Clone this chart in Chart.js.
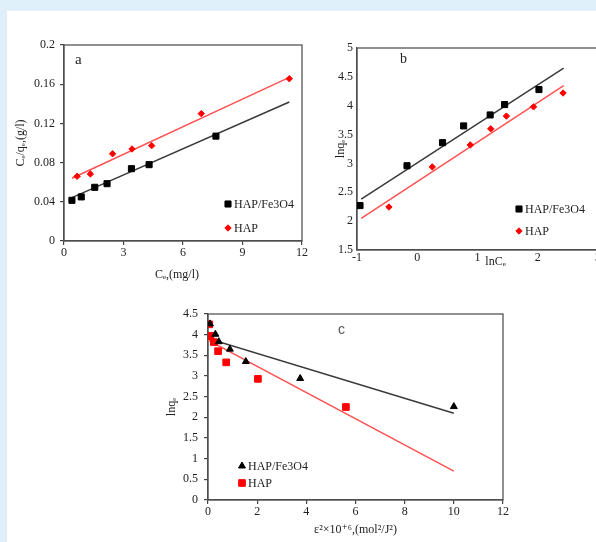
<!DOCTYPE html>
<html>
<head>
<meta charset="utf-8">
<script src="https://cdn.jsdelivr.net/npm/chart.js@4.4.1/dist/chart.umd.min.js"></script>
<style>
  html, body { margin: 0; padding: 0; width: 596px; height: 542px; overflow: hidden; background: #dff0fa; }
  #panel { position: absolute; left: 7px; top: 11px; right: 0; bottom: 0; background: #fff; }
  canvas { position: absolute; }
</style>
</head>
<body>
<div id="panel"></div>
<canvas id="chartA" width="310" height="290" style="left:0;top:0"></canvas>
<canvas id="chartB" width="320" height="290" style="left:305px;top:0"></canvas>
<canvas id="chartC" width="380" height="252" style="left:150px;top:290px"></canvas>
<script>
// (a) Langmuir: Ce/qe vs Ce
var aFeX  = [0.40, 0.87, 1.55, 2.17, 3.40, 4.29, 7.66];
var aFeY  = [0.0415, 0.045, 0.0548, 0.0585, 0.0738, 0.0779, 0.107];
var aHapX = [0.66, 1.33, 2.45, 3.43, 4.42, 6.92, 11.36];
var aHapY = [0.066, 0.0684, 0.089, 0.0939, 0.0973, 0.130, 0.1656];
var aFitX = [0.4, 11.36];
var aFitFe  = [0.0442, 0.1418];
var aFitHap = [0.064, 0.167];
var aXTicks = [0, 3, 6, 9, 12];
var aYTicks = [0, 0.04, 0.08, 0.12, 0.16, 0.2];

// (b) Freundlich: lnqe vs lnCe
var bFeX  = [-0.95, -0.17, 0.42, 0.77, 1.21, 1.45, 2.02];
var bFeY  = [2.27, 2.96, 3.36, 3.65, 3.84, 4.02, 4.28];
var bHapX = [-0.47, 0.25, 0.88, 1.22, 1.48, 1.93, 2.42];
var bHapY = [2.245, 2.94, 3.32, 3.60, 3.82, 3.98, 4.22];
var bFitX = [-0.93, 2.43];
var bFitFe  = [2.38, 4.65];
var bFitHap = [2.05, 4.35];
var bXTicks = [-1, 0, 1, 2, 3];
var bYTicks = [1.5, 2, 2.5, 3, 3.5, 4, 4.5, 5];

// (c) D-R: lnqe vs eps^2
var cFeX  = [0.08, 0.30, 0.44, 0.89, 1.54, 3.75, 10.0];
var cFeY  = [4.26, 4.01, 3.83, 3.65, 3.35, 2.94, 2.26];
var cHapX = [0.05, 0.10, 0.24, 0.41, 0.74, 2.03, 5.61];
var cHapY = [4.25, 3.97, 3.82, 3.60, 3.33, 2.93, 2.25];
var cFitX = [0, 10];
var cFitFe  = [3.91, 2.10];
var cFitHap = [3.87, 0.70];
var cXTicks = [0, 2, 4, 6, 8, 10, 12];
var cYTicks = [0, 0.5, 1, 1.5, 2, 2.5, 3, 3.5, 4, 4.5];

var serif = '"Liberation Serif", "DejaVu Serif", serif';
var textColor = '#222';

function pts(xs, ys) {
    return xs.map(function(x, i) { return {x: x, y: ys[i]}; });
}

// frame round the plot, panel letter and a small legend inside the plot
var extras = {
    id: 'extras',
    beforeDatasetsDraw: function(chart) {
        var ca = chart.chartArea, ctx = chart.ctx;
        ctx.save();
        ctx.strokeStyle = '#555';
        ctx.lineWidth = 1.3;
        ctx.strokeRect(ca.left, ca.top, ca.right - ca.left, ca.bottom - ca.top);
        ctx.restore();
    },
    afterDraw: function(chart, args, opts) {
        var ca = chart.chartArea, ctx = chart.ctx;
        ctx.save();
        ctx.textBaseline = 'middle';
        ctx.textAlign = 'left';
        ctx.font = opts.letterFont;
        ctx.fillStyle = opts.letterColor;
        ctx.fillText(opts.letter, ca.left + opts.letterAt[0], ca.top + opts.letterAt[1]);

        ctx.font = '12px ' + serif;
        var x = ca.left + opts.legendAt[0];
        var y = ca.top + opts.legendAt[1];
        chart.data.datasets.forEach(function(ds) {
            if (ds.showLine) return;
            ctx.fillStyle = ds.backgroundColor;
            ctx.strokeStyle = ds.borderColor;
            ctx.lineWidth = 1;
            Chart.helpers.drawPoint(ctx, {pointStyle: ds.pointStyle, radius: ds.pointRadius, rotation: 0, borderWidth: 1}, x, y);
            ctx.fillStyle = textColor;
            ctx.fillText(ds.label, x + 6, y + 1);
            y += opts.legendGap;
        });
        ctx.restore();
    }
};

function axis(min, max, ticks, title, o) {
    return {
        type: 'linear',
        min: min,
        max: max,
        afterBuildTicks: function(s) { s.ticks = ticks.map(function(v) { return {value: v}; }); },
        afterFit: function(s) { if (s.isHorizontal()) s.height = o.size; else s.width = o.size; },
        grid: {drawOnChartArea: false, drawTicks: o.tick > 0, tickLength: o.tick, color: '#444', lineWidth: 1.2},
        border: {color: '#444', width: 1.3},
        ticks: {font: {family: serif, size: 12}, color: textColor, padding: o.pad, maxRotation: 0,
                callback: function(v) { return String(v); }},
        title: {display: true, text: title, color: textColor, font: {family: serif, size: 12}, padding: o.titlePad}
    };
}

function series(label, xs, ys, style, color, r) {
    return {label: label, data: pts(xs, ys), pointStyle: style, pointRadius: r, pointHoverRadius: r,
            backgroundColor: color, borderColor: color, borderWidth: 1, order: 1};
}

function fit(xs, ys, color) {
    return {label: 'fit', data: pts(xs, ys), showLine: true, pointRadius: 0, borderColor: color,
            borderWidth: 1.5, backgroundColor: color, order: 2};
}

function makeChart(id, datasets, scales, padding, extraOpts) {
    return new Chart(document.getElementById(id).getContext('2d'), {
        type: 'scatter',
        data: {datasets: datasets},
        options: {
            responsive: false,
            animation: false,
            layout: {padding: padding},
            plugins: {legend: {display: false}, tooltip: {enabled: false}, extras: extraOpts},
            scales: scales
        },
        plugins: [extras]
    });
}

makeChart('chartA', [
    series('HAP/Fe3O4', aFeX, aFeY, 'rect', '#000', 4.3),
    series('HAP', aHapX, aHapY, 'rectRot', '#ff0000', 3.2),
    fit(aFitX, aFitFe, '#3a3a3a'),
    fit(aFitX, aFitHap, '#ff5252')
], {
    x: axis(0, 12, aXTicks, 'C\u2091,(mg/l)\u2003', {size: 49, tick: 4, pad: 1, titlePad: {top: 0, bottom: 8}}),
    y: axis(0, 0.2, aYTicks, 'C\u2091/q\u2091,(g/l)', {size: 64, tick: 4, pad: 5, titlePad: {top: 14, bottom: 0}})
}, {left: 0, top: 45, right: 8, bottom: 0},
{letter: 'a', letterFont: '15px ' + serif, letterColor: '#222', letterAt: [11, 15], legendAt: [164, 159], legendGap: 24});

makeChart('chartB', [
    series('HAP/Fe3O4', bFeX, bFeY, 'rect', '#000', 4.3),
    series('HAP', bHapX, bHapY, 'rectRot', '#ff0000', 3.2),
    fit(bFitX, bFitFe, '#3a3a3a'),
    fit(bFitX, bFitHap, '#ff5252')
], {
    x: axis(-1, 3, bXTicks, '\u2003\u2003\u2003lnC\u2091', {size: 40, tick: 0, pad: 1, titlePad: {top: 0, bottom: 21}}),
    y: axis(1.5, 5, bYTicks, 'lnq\u2091', {size: 52, tick: 0, pad: 4, titlePad: {top: 29, bottom: 0}})
}, {left: 0, top: 48, right: 27, bottom: 0},
{letter: 'b', letterFont: '14px ' + serif, letterColor: '#222', letterAt: [43, 11], legendAt: [162, 161], legendGap: 22});

makeChart('chartC', [
    series('HAP/Fe3O4', cFeX, cFeY, 'triangle', '#000', 4),
    series('HAP', cHapX, cHapY, 'rect', '#ff0000', 4.7),
    fit(cFitX, cFitFe, '#3a3a3a'),
    fit(cFitX, cFitHap, '#ff5252')
], {
    x: axis(0, 12, cXTicks, '\u03b5\u00b2\u00d710\u207a\u2076,(mol\u00b2/J\u00b2)', {size: 42, tick: 4, pad: 1, titlePad: {top: 0, bottom: 5}}),
    y: axis(0, 4.5, cYTicks, 'lnq\u2091', {size: 58, tick: 4, pad: 6, titlePad: {top: 15, bottom: 0}})
}, {left: 0, top: 24, right: 27, bottom: 0},
{letter: 'c', letterFont: '14px "Liberation Sans", sans-serif', letterColor: '#555', letterAt: [130, 16], legendAt: [34, 152], legendGap: 17});
</script>
</body>
</html>
